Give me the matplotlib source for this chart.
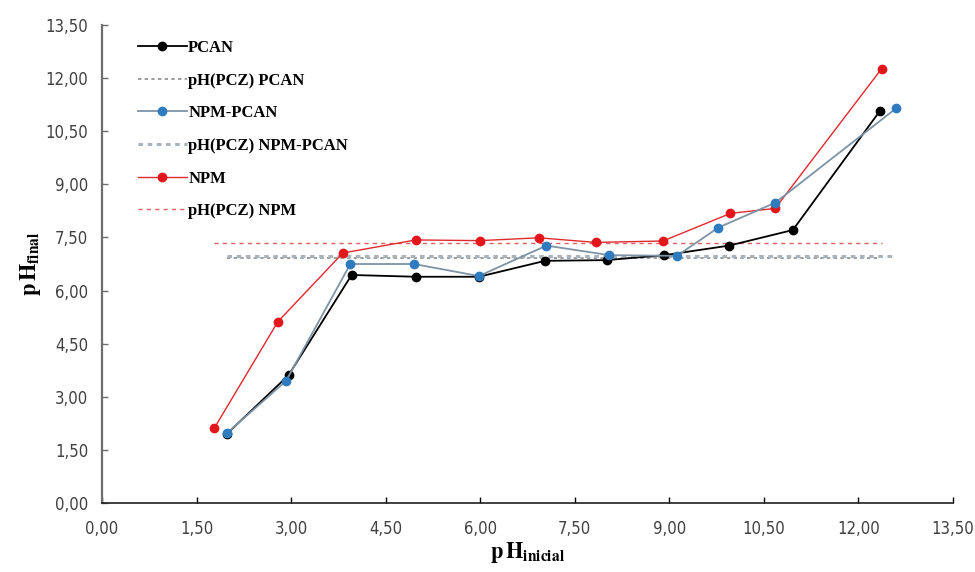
"""
pH final vs pH inicial (PCZ) chart
"""
import matplotlib
matplotlib.use('Agg')
import matplotlib.pyplot as plt
from matplotlib.ticker import FuncFormatter, MultipleLocator

plt.rcParams['mathtext.fontset'] = 'stix'

# data
pcan_x = [1.98, 2.96, 3.96, 4.98, 5.98, 7.03, 8.01, 8.92, 9.95, 10.96, 12.34]
pcan_y = [1.95, 3.61, 6.44, 6.39, 6.39, 6.84, 6.86, 7.00, 7.27, 7.71, 11.07]

npm_pcan_x = [1.98, 2.92, 3.94, 4.95, 5.98, 7.05, 8.05, 9.12, 9.78, 10.68, 12.60]
npm_pcan_y = [1.97, 3.45, 6.75, 6.75, 6.41, 7.27, 7.00, 6.98, 7.78, 8.48, 11.15]

npm_x = [1.78, 2.79, 3.82, 4.98, 5.99, 6.93, 7.83, 8.90, 9.97, 10.68, 12.37]
npm_y = [2.11, 5.12, 7.06, 7.43, 7.41, 7.49, 7.36, 7.40, 8.18, 8.32, 12.27]

pcz_pcan = 6.93
pcz_npm_pcan = 6.98
pcz_npm = 7.35

fig = plt.figure(figsize=(9.75, 5.72), dpi=100)
ax = fig.add_axes([0.1046, 0.1206, 0.8728, 0.8357])

ax.plot(pcan_x, pcan_y, color='black', linewidth=1.3, marker='o',
        markersize=6, label='PCAN', zorder=4)
ax.plot([pcan_x[0], pcan_x[-1]], [pcz_pcan] * 2, color='#8c8c8c',
        linewidth=1.2, linestyle=(0, (2, 2)), label='pH(PCZ) PCAN', zorder=2)
ax.plot(npm_pcan_x, npm_pcan_y, color='#7d93a6', linewidth=1.3, marker='o',
        markersize=6, markerfacecolor='#2e7bbf', markeredgecolor='#2e7bbf',
        label='NPM-PCAN', zorder=4)
ax.plot([npm_pcan_x[0], npm_pcan_x[-1]], [pcz_npm_pcan] * 2, color='#aab2ba',
        linewidth=2.2, linestyle=(0, (1.5, 1.5)), label='pH(PCZ) NPM-PCAN', zorder=2)
ax.plot(npm_x, npm_y, color='#e0292e', linewidth=1.0, marker='o',
        markersize=6, markerfacecolor='#e3161c', markeredgecolor='#e3161c',
        label='NPM', zorder=3)
ax.plot([npm_x[0], npm_x[-1]], [pcz_npm] * 2, color='#e06060',
        linewidth=1.0, linestyle=(0, (3, 3)), label='pH(PCZ) NPM', zorder=2)

ax.set_xlim(0, 13.5)
ax.set_ylim(0, 13.5)
ax.xaxis.set_major_locator(MultipleLocator(1.5))
ax.yaxis.set_major_locator(MultipleLocator(1.5))
comma = FuncFormatter(lambda v, p: f'{v:.2f}'.replace('.', ','))
ax.xaxis.set_major_formatter(comma)
ax.yaxis.set_major_formatter(comma)

ax.tick_params(direction='in', length=4, width=1, labelsize=12)
ax.tick_params(axis='x', pad=12)
ax.tick_params(axis='y', pad=10, colors='#6e6e6e', labelcolor='#404040')
ax.tick_params(axis='x', labelcolor='#404040')
for lab in ax.get_xticklabels() + ax.get_yticklabels():
    lab.set_family('DejaVu Sans')
    lab.set_stretch('condensed')

ax.spines['top'].set_visible(False)
ax.spines['right'].set_visible(False)
ax.spines['left'].set_color('#6e6e6e')
ax.spines['left'].set_linewidth(1.6)
ax.spines['bottom'].set_color('#202020')
ax.spines['bottom'].set_linewidth(1.2)

ax.set_xlabel(r'$\mathbf{p\,H_{inicial}}$', fontsize=16, labelpad=2)
ax.set_ylabel(r'$\mathbf{p\,H_{final}}$', fontsize=16, labelpad=2)

leg = ax.legend(loc='upper left', bbox_to_anchor=(0.025, 1.0), frameon=False,
                handlelength=2.9, handletextpad=0.1, labelspacing=1.0,
                prop={'family': 'Liberation Serif', 'weight': 'bold', 'size': 12})

fig.savefig('out.png', dpi=100)
plt.close(fig)
